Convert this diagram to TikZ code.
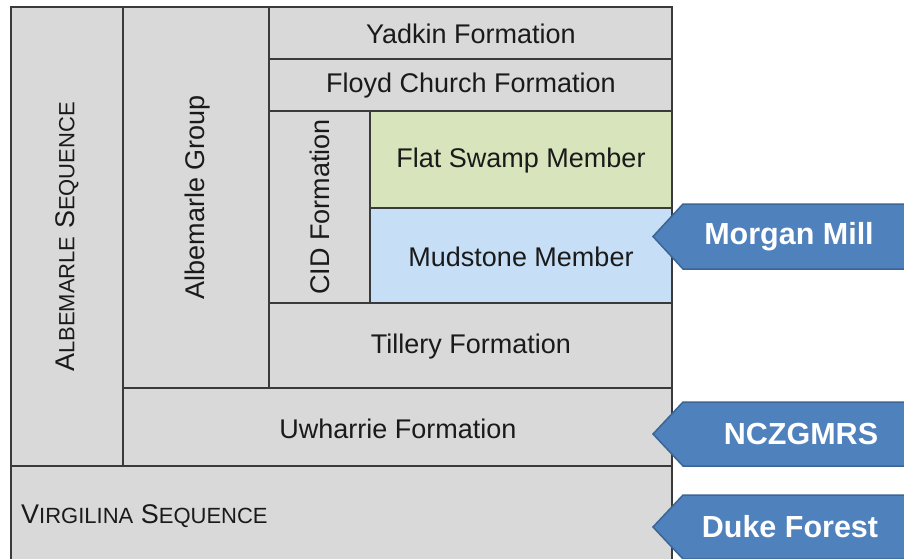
\documentclass[tikz,border=0pt]{standalone}
\usepackage{fontspec}
\setmainfont{Liberation Sans}
\definecolor{cellgray}{HTML}{D9D9D9}
\definecolor{linegray}{HTML}{3A3A3A}
\definecolor{cellgreen}{HTML}{D8E4BC}
\definecolor{cellblue}{HTML}{C6DFF7}
\definecolor{arrowfill}{HTML}{4F81BD}
\definecolor{arrowline}{HTML}{3A6595}
\definecolor{txtdark}{HTML}{1A1A1A}
\newcommand{\myscaps}[2]{{\fontsize{27}{31}\selectfont #1}{\fontsize{22}{27}\selectfont #2}}
\begin{document}
\begin{tikzpicture}[x=1pt,y=-1pt,
  cell/.style={draw=linegray, line width=1.5pt, fill=cellgray},
  celltext/.style={text=txtdark, font=\fontsize{27}{31}\selectfont, inner sep=0pt},
  tagbox/.style={draw=arrowline, line width=1.5pt, fill=arrowfill},
  tagtext/.style={text=white, font=\fontsize{30.5}{34}\selectfont\bfseries, inner sep=0pt}]
\useasboundingbox (0,0) rectangle (904,558);
\clip (0,0) rectangle (904,558);
% cells
\path[cell] (11,7) rectangle (123,466);
\path[cell] (123,7) rectangle (269,388);
\path[cell] (269,7) rectangle (672,59);
\path[cell] (269,59) rectangle (672,111);
\path[cell] (269,111) rectangle (370,303);
\path[cell, fill=cellgreen] (370,111) rectangle (672,208);
\path[cell, fill=cellblue] (370,208) rectangle (672,303);
\path[cell] (269,303) rectangle (672,388);
\path[cell] (123,388) rectangle (672,466);
\path[cell] (11,466) rectangle (672,575);
% texts
\node[celltext, rotate=90] (aseq) at (67,237) {\myscaps{A}{LBEMARLE} \myscaps{S}{EQUENCE}};
\node[celltext, rotate=90] (agrp) at (198,197) {Albemarle Group};
\node[celltext] (yadkin) at (471,34) {Yadkin Formation};
\node[celltext] (floyd) at (471,86) {Floyd Church Formation};
\node[celltext, rotate=90] (cid) at (320,207) {CID Formation};
\node[celltext] (flat) at (521,161) {Flat Swamp Member};
\node[celltext] (mud) at (521,257) {Mudstone Member};
\node[celltext] (tillery) at (471,347) {Tillery Formation};
\node[celltext] (uwharrie) at (398,429) {Uwharrie Formation};
\node[celltext, anchor=west] (virg) at (21,516) {\myscaps{V}{IRGILINA} \myscaps{S}{EQUENCE}};
% tags
\path[tagbox] (912,204) -- (683,204) -- (653,236.5) -- (683,269) -- (912,269) -- cycle;
\node[tagtext] (mm) at (789,237) {Morgan Mill};
\path[tagbox] (912,402) -- (683,402) -- (653,434) -- (683,466) -- (912,466) -- cycle;
\node[tagtext] (ncz) at (801,434) {NCZGMRS};
\path[tagbox] (912,495) -- (683,495) -- (653,527) -- (683,559) -- (912,559) -- cycle;
\node[tagtext] (duke) at (790,527) {Duke Forest};
\end{tikzpicture}
\end{document}
